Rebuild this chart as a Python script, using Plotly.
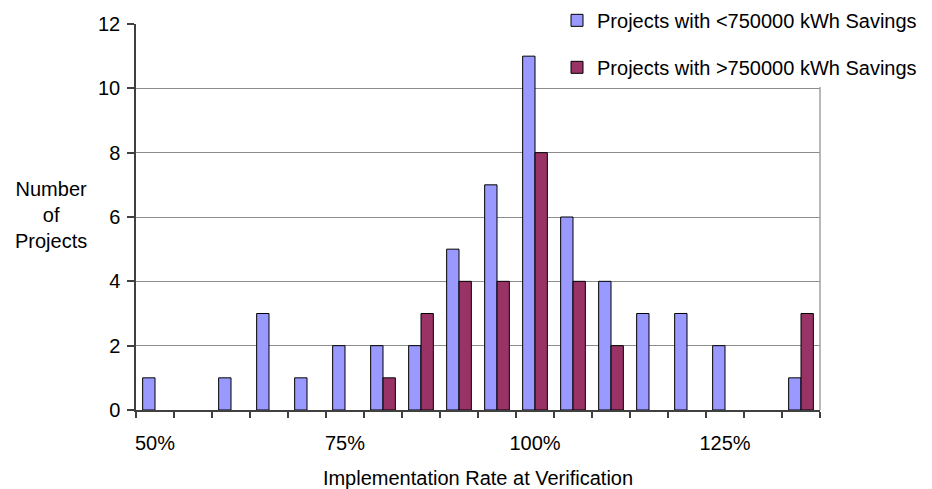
import plotly.graph_objects as go

# implementation-rate bins (5% wide) and project counts per bin
rates = ["50%", "55%", "60%", "65%", "70%", "75%", "80%", "85%", "90%",
         "95%", "100%", "105%", "110%", "115%", "120%", "125%", "130%", "135%"]
under_750k = [1, 0, 1, 3, 1, 2, 2, 2, 5, 7, 11, 6, 4, 3, 3, 2, 0, 1]
over_750k = [0, 0, 0, 0, 0, 0, 1, 3, 4, 4, 8, 4, 2, 0, 0, 0, 0, 3]
labelled_rates = ["50%", "75%", "100%", "125%"]

FONT = "Liberation Sans, Arial, sans-serif"
AXIS_COLOR = "#404040"


def no_zero(values):
    # empty bins draw nothing (Excel style), not a flat outlined bar
    return [v if v else None for v in values]


fig = go.Figure()

fig.add_trace(go.Bar(
    name="Projects with <750000 kWh Savings",
    x=rates,
    y=no_zero(under_750k),
    marker=dict(color="#9999FF", line=dict(color="black", width=1)),
    legendgroup="under",
))

fig.add_trace(go.Bar(
    name="Projects with >750000 kWh Savings",
    x=rates,
    y=no_zero(over_750k),
    marker=dict(color="#993366", line=dict(color="black", width=1)),
    legendgroup="over",
))

# page body has an 8px margin, so the figure is 8px smaller each way
fig.update_layout(
    width=924,
    height=481,
    margin=dict(l=128, r=112, t=16, b=79, autoexpand=False),
    barmode="group",
    bargap=0.35,
    bargroupgap=0,
    plot_bgcolor="white",
    paper_bgcolor="white",
    font=dict(family=FONT, size=20, color="black"),
    legend=dict(
        x=0.6155, y=1.06, xanchor="left", yanchor="top",
        bgcolor="white", borderwidth=0,
        tracegroupgap=18,
        font=dict(family=FONT, size=20, color="black"),
    ),
    xaxis=dict(
        type="category",
        tickmode="array",
        tickvals=rates,
        ticktext=[r if r in labelled_rates else "" for r in rates],
        tickson="boundaries",
        tickangle=0,
        ticks="outside",
        ticklen=6,
        tickcolor=AXIS_COLOR,
        tickwidth=1.5,
        showline=True,
        linecolor=AXIS_COLOR,
        linewidth=1.5,
        showgrid=False,
        ticklabelstandoff=14,
        title=dict(text="Implementation Rate at Verification", standoff=18,
                   font=dict(size=20)),
    ),
    yaxis=dict(
        range=[0, 12],
        dtick=2,
        showgrid=True,
        gridcolor="#8c8c8c",
        gridwidth=1,
        zeroline=False,
        showline=True,
        linecolor=AXIS_COLOR,
        linewidth=1.5,
        ticks="outside",
        ticklen=7,
        tickcolor=AXIS_COLOR,
        tickwidth=1.5,
        ticklabelstandoff=3,
    ),
    annotations=[dict(
        text="Number<br>of<br>Projects",
        xref="paper", yref="paper",
        x=-0.125, y=0.505, xanchor="center", yanchor="middle",
        showarrow=False, align="center",
        font=dict(family=FONT, size=20, color="black"),
    )],
    shapes=[dict(
        type="line", xref="paper", yref="paper",
        x0=1, x1=1, y0=0, y1=1,
        line=dict(color="#a0a0a0", width=1.5),
    )],
)

fig.write_html("out.html")
